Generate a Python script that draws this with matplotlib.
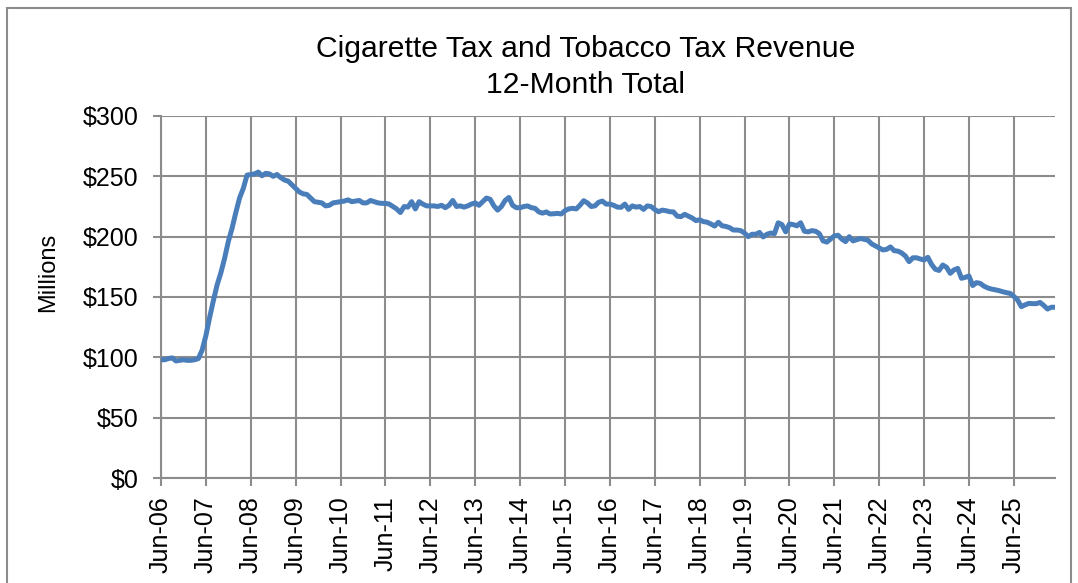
import numpy as np
import matplotlib
matplotlib.use("Agg")
import matplotlib.pyplot as plt
from matplotlib.patches import Rectangle

plt.rcParams['font.family'] = ['Liberation Sans', 'DejaVu Sans']

# 12-month total revenue, monthly from Jun-06, in $ millions
revenue = [
    98, 98, 99, 99.5, 97, 97.5, 98, 97.5, 97.5, 98, 99, 106,
    118, 133, 147, 160, 170, 182, 196, 207, 220, 232, 240, 251,
    251.5, 252, 253.5, 250.5, 252.5, 252, 250, 251.5, 249, 247, 246, 243,
    240, 237, 235.5, 235, 232, 229, 228.5, 228, 225.5, 226, 228, 228.5,
    229, 229.5, 230.5, 229, 229.5, 230, 228, 228, 230, 229, 228, 227.6,
    227.6, 227, 225, 223, 220, 225, 224.5, 229, 223, 229, 227, 225.5,
    225.5, 225.5, 225, 226, 224, 226, 230, 225, 225.5, 224.5, 225.5, 227,
    228, 226, 229, 232, 231, 225.5, 222, 225, 230, 232.5, 226, 224,
    224, 225, 225.5, 224, 223.5, 220.5, 219.5, 220.5, 218.8, 219, 219.3, 218.8,
    221.5, 223, 223.5, 223, 226, 229.8, 228, 225, 225.5, 228.5, 229.5, 227,
    227, 226, 224.5, 224.3, 227, 222.6, 225.5, 224.5, 225, 222.6, 225.5, 225,
    222.5, 220.7, 222, 221.5, 220.7, 220.5, 217, 216.6, 218.5, 217, 215.5, 213.3,
    214, 212.5, 212, 210.5, 208.8, 211.9, 209, 208.5, 207.5, 205.5, 205.5, 205,
    203, 200, 202, 202, 203.5, 199.8, 202, 203, 202.5, 211.5, 210, 204,
    210.5, 210, 209, 211.5, 204.5, 204, 205, 204.5, 202.5, 196.5, 195.5, 198,
    200.6, 201.2, 198, 195.9, 200, 196.5, 197.5, 198.5, 197.8, 197, 194, 192.3,
    190.5, 189, 189.5, 191.5, 188.4, 188, 186.5, 184, 179.3, 182.5, 182.5, 181.5,
    180.7, 182.9, 177, 173, 172, 176.5, 174.6, 169.6, 172.5, 173.7, 165.5, 166.3,
    167.4, 159.5, 161.9, 161.3, 159, 157.5, 156.6, 156, 155.3, 154.4, 153.6, 153,
    150.5, 147.5, 142, 143.5, 144.7, 144.5, 144.5, 145.5, 143, 140, 141.5, 141.5,
]

year_labels = ['Jun-06', 'Jun-07', 'Jun-08', 'Jun-09', 'Jun-10', 'Jun-11', 'Jun-12',
               'Jun-13', 'Jun-14', 'Jun-15', 'Jun-16', 'Jun-17', 'Jun-18', 'Jun-19',
               'Jun-20', 'Jun-21', 'Jun-22', 'Jun-23', 'Jun-24', 'Jun-25']
y_ticks = [0, 50, 100, 150, 200, 250, 300]

W, H = 1078, 583
fig = plt.figure(figsize=(W / 100, H / 100), dpi=100)
ax = fig.add_axes([161 / W, 1 - 478 / H, (1055 - 161) / W, (478 - 116) / H])

grid_c = '#8c8c8c'
x = np.arange(len(revenue))
ax.plot(x, revenue, color='#4a7ebb', lw=3.6, solid_joinstyle='round', zorder=3)

ax.set_xlim(0, len(revenue) - 1)
ax.set_ylim(0, 300)
ax.set_xticks(np.arange(len(year_labels)) * 12)
ax.set_xticklabels(year_labels, rotation=90, fontsize=18)
ax.set_yticks(y_ticks)
ax.set_yticklabels(['${}'.format(v) for v in y_ticks], fontsize=18)
ax.grid(True, color=grid_c, lw=1.5, zorder=1)
ax.tick_params(axis='both', color=grid_c, width=1.5, length=6)
ax.tick_params(axis='y', pad=10)
ax.tick_params(axis='x', pad=7)
for s in ['top', 'right']:
    ax.spines[s].set_visible(False)
for s in ['left', 'bottom']:
    ax.spines[s].set_color(grid_c)
    ax.spines[s].set_linewidth(1.5)

ax.set_ylabel('Millions', fontsize=17)
ax.yaxis.set_label_coords((59 - 161) / (1055 - 161), (478 - 272) / (478 - 116))

fig.text(586 / W, 1 - 67 / H, 'Cigarette Tax and Tobacco Tax Revenue\n12-Month Total',
         ha='center', va='center', fontsize=21.7, linespacing=1.35)

fig.add_artist(Rectangle((7 / W, -0.1), (1071 - 7) / W, 1.1 - 8 / H,
                         transform=fig.transFigure, fill=False,
                         edgecolor='#8c8c8c', lw=1.5))

fig.savefig('out.png', dpi=100)
